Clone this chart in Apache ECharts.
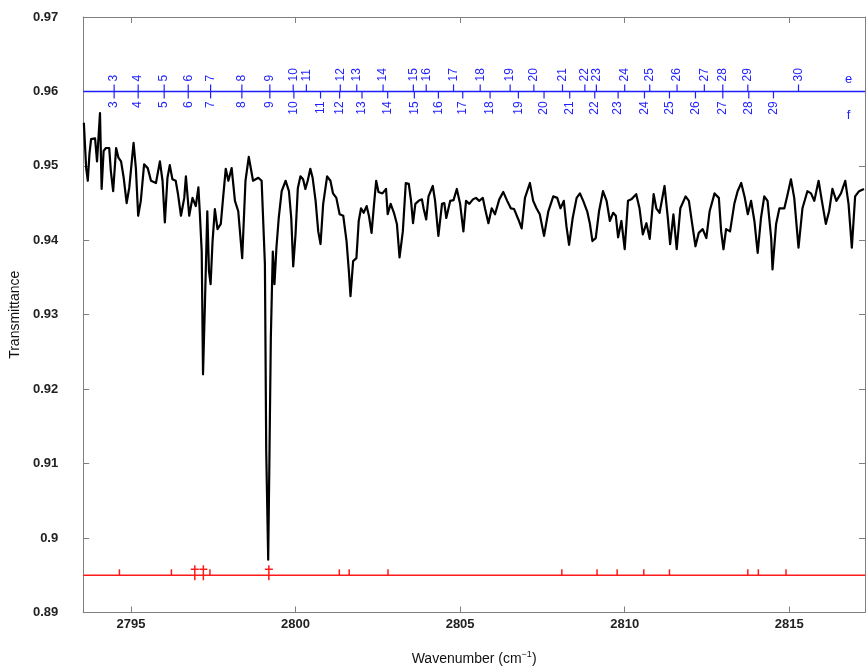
<!DOCTYPE html>
<html>
<head>
<meta charset="utf-8">
<title>Transmittance spectrum</title>
<script src="https://cdn.jsdelivr.net/npm/echarts@6/dist/echarts.min.js"></script>
<style>
  html, body { margin: 0; padding: 0; background: #fff; }
  #chart { width: 866px; height: 671px; }
</style>
</head>
<body>
<div id="chart"></div>
<script>
// measured spectrum (wavenumber in cm-1, transmittance)
const wavenumber = [
  2793.57, 2793.64, 2793.69, 2793.74, 2793.79, 2793.91, 2793.97, 2794.06, 2794.11, 2794.17,
  2794.24, 2794.34, 2794.39, 2794.46, 2794.55, 2794.62, 2794.70, 2794.78, 2794.87, 2794.95,
  2795.08, 2795.15, 2795.22, 2795.30, 2795.40, 2795.51, 2795.61, 2795.76, 2795.88, 2795.96,
  2796.03, 2796.11, 2796.18, 2796.26, 2796.36, 2796.43, 2796.52, 2796.62, 2796.67, 2796.77,
  2796.87, 2796.97, 2797.05, 2797.09, 2797.15, 2797.19, 2797.25, 2797.32, 2797.37, 2797.42,
  2797.48, 2797.55, 2797.63, 2797.73, 2797.80, 2797.88, 2797.96, 2798.06, 2798.16, 2798.26,
  2798.38, 2798.48, 2798.58, 2798.71, 2798.87, 2798.97, 2799.07, 2799.11, 2799.17, 2799.21,
  2799.25, 2799.31, 2799.36, 2799.42, 2799.49, 2799.58, 2799.70, 2799.80, 2799.87, 2799.93,
  2800.00, 2800.07, 2800.15, 2800.23, 2800.30, 2800.37, 2800.45, 2800.52, 2800.61, 2800.69,
  2800.76, 2800.84, 2800.96, 2801.06, 2801.14, 2801.24, 2801.34, 2801.45, 2801.55, 2801.62,
  2801.67, 2801.75, 2801.85, 2801.92, 2801.99, 2802.07, 2802.16, 2802.23, 2802.31, 2802.38,
  2802.45, 2802.52, 2802.64, 2802.75, 2802.80, 2802.89, 2802.99, 2803.08, 2803.16, 2803.26,
  2803.35, 2803.44, 2803.51, 2803.57, 2803.64, 2803.74, 2803.84, 2803.89, 2803.97, 2804.04,
  2804.17, 2804.24, 2804.34, 2804.45, 2804.52, 2804.58, 2804.70, 2804.80, 2804.90, 2805.00,
  2805.10, 2805.18, 2805.28, 2805.39, 2805.48, 2805.58, 2805.69, 2805.76, 2805.86, 2805.96,
  2806.06, 2806.19, 2806.31, 2806.43, 2806.54, 2806.64, 2806.77, 2806.87, 2806.97, 2807.12,
  2807.22, 2807.32, 2807.42, 2807.55, 2807.68, 2807.83, 2807.95, 2808.05, 2808.15, 2808.23,
  2808.31, 2808.42, 2808.54, 2808.64, 2808.74, 2808.86, 2808.94, 2809.02, 2809.12, 2809.22,
  2809.34, 2809.45, 2809.55, 2809.65, 2809.73, 2809.80, 2809.90, 2810.00, 2810.10, 2810.20,
  2810.35, 2810.45, 2810.55, 2810.66, 2810.76, 2810.88, 2810.96, 2811.06, 2811.21, 2811.31,
  2811.38, 2811.48, 2811.58, 2811.69, 2811.85, 2811.95, 2812.05, 2812.15, 2812.25, 2812.37,
  2812.48, 2812.58, 2812.73, 2812.86, 2812.93, 2813.00, 2813.08, 2813.20, 2813.33, 2813.43,
  2813.54, 2813.64, 2813.74, 2813.84, 2813.94, 2814.04, 2814.14, 2814.24, 2814.34, 2814.45,
  2814.49, 2814.60, 2814.70, 2814.85, 2814.95, 2815.05, 2815.15, 2815.28, 2815.40, 2815.55,
  2815.66, 2815.76, 2815.89, 2815.99, 2816.11, 2816.21, 2816.31, 2816.43, 2816.57, 2816.70,
  2816.80, 2816.90, 2817.00, 2817.12, 2817.27
];
const transmittance = [
  0.9558, 0.9497, 0.9480, 0.9516, 0.9536, 0.9537, 0.9506, 0.9571, 0.9469, 0.9520,
  0.9524, 0.9524, 0.9493, 0.9466, 0.9524, 0.9511, 0.9506, 0.9484, 0.9450, 0.9471,
  0.9531, 0.9497, 0.9433, 0.9453, 0.9502, 0.9497, 0.9480, 0.9477, 0.9506, 0.9480,
  0.9424, 0.9484, 0.9501, 0.9482, 0.9480, 0.9462, 0.9433, 0.9457, 0.9486, 0.9433,
  0.9457, 0.9446, 0.9471, 0.9439, 0.9385, 0.9220, 0.9318, 0.9439, 0.9359, 0.9341,
  0.9399, 0.9442, 0.9415, 0.9422, 0.9457, 0.9496, 0.9480, 0.9497, 0.9453, 0.9439,
  0.9376, 0.9480, 0.9512, 0.9480, 0.9484, 0.9480, 0.9368, 0.9117, 0.8971, 0.9117,
  0.9269, 0.9385, 0.9341, 0.9390, 0.9430, 0.9466, 0.9480, 0.9466, 0.9430, 0.9365,
  0.9408, 0.9470, 0.9486, 0.9482, 0.9469, 0.9480, 0.9496, 0.9484, 0.9453, 0.9412,
  0.9395, 0.9449, 0.9486, 0.9480, 0.9463, 0.9457, 0.9435, 0.9433, 0.9399, 0.9359,
  0.9325, 0.9372, 0.9376, 0.9426, 0.9443, 0.9437, 0.9446, 0.9433, 0.9410, 0.9446,
  0.9480, 0.9465, 0.9463, 0.9469, 0.9435, 0.9449, 0.9437, 0.9422, 0.9377, 0.9412,
  0.9477, 0.9476, 0.9453, 0.9423, 0.9449, 0.9453, 0.9455, 0.9443, 0.9428, 0.9459,
  0.9473, 0.9453, 0.9406, 0.9449, 0.9450, 0.9430, 0.9453, 0.9454, 0.9469, 0.9449,
  0.9412, 0.9453, 0.9449, 0.9455, 0.9457, 0.9453, 0.9457, 0.9442, 0.9423, 0.9443,
  0.9435, 0.9455, 0.9465, 0.9453, 0.9443, 0.9442, 0.9428, 0.9416, 0.9457, 0.9477,
  0.9453, 0.9443, 0.9435, 0.9406, 0.9439, 0.9459, 0.9457, 0.9443, 0.9453, 0.9419,
  0.9394, 0.9430, 0.9457, 0.9463, 0.9453, 0.9439, 0.9423, 0.9399, 0.9403, 0.9439,
  0.9466, 0.9453, 0.9426, 0.9437, 0.9433, 0.9404, 0.9426, 0.9388, 0.9453, 0.9455,
  0.9462, 0.9443, 0.9408, 0.9423, 0.9402, 0.9462, 0.9443, 0.9437, 0.9473, 0.9430,
  0.9395, 0.9435, 0.9388, 0.9443, 0.9459, 0.9453, 0.9422, 0.9392, 0.9410, 0.9415,
  0.9403, 0.9439, 0.9463, 0.9457, 0.9412, 0.9388, 0.9415, 0.9412, 0.9449, 0.9466,
  0.9477, 0.9459, 0.9435, 0.9453, 0.9426, 0.9383, 0.9430, 0.9459, 0.9453, 0.9403,
  0.9361, 0.9422, 0.9443, 0.9443, 0.9462, 0.9482, 0.9457, 0.9390, 0.9443, 0.9466,
  0.9463, 0.9453, 0.9480, 0.9453, 0.9422, 0.9439, 0.9469, 0.9453, 0.9463, 0.9480,
  0.9449, 0.9390, 0.9459, 0.9466, 0.9469
];

// assignment rows (blue comb at 0.96): upper "e" and lower "f"
const eLabels = ["3","4","5","6","7","8","9","10","11","12","13","14","15","16","17","18","19","20","21","22","23","24","25","26","27","28","29","30"];
const ePositions = [
  2794.49, 2795.22, 2796.01, 2796.74, 2797.42, 2798.37, 2799.22, 2799.93, 2800.33, 2801.36,
  2801.86, 2802.66, 2803.58, 2803.97, 2804.80, 2805.61, 2806.52, 2807.24, 2808.11, 2808.79,
  2809.14, 2810.00, 2810.76, 2811.59, 2812.42, 2812.98, 2813.74, 2815.28
];
const fLabels = ["3","4","5","6","7","8","9","10","11","12","13","14","15","16","17","18","19","20","21","22","23","24","25","26","27","28","29"];
const fPositions = [
  2794.49, 2795.22, 2796.01, 2796.74, 2797.42, 2798.37, 2799.22, 2799.95, 2800.76, 2801.34,
  2802.02, 2802.80, 2803.61, 2804.34, 2805.08, 2805.91, 2806.77, 2807.55, 2808.33, 2809.09,
  2809.80, 2810.60, 2811.36, 2812.15, 2812.98, 2813.77, 2814.52
];

// red line markers at 0.895
const redTicks = [
  2794.65, 2796.23, 2797.40, 2801.33, 2801.63, 2802.81, 2808.09, 2809.16, 2809.77,
  2810.58, 2811.36, 2813.74, 2814.06, 2814.90
];
const redCrosses = [2796.94, 2797.20, 2799.19];

const xTicks = [2795, 2800, 2805, 2810, 2815];
const blueLevel = 0.96;
const redLevel = 0.895;
const xMin = 2793.55;
const xMax = 2817.3;

const BLUE = "#1f1fff";
const RED = "#ff1a1a";
const AXIS_GREY = "#7f7f7f";
const FONT = "Liberation Sans, Arial, sans-serif";

const chart = echarts.init(document.getElementById("chart"), null, { renderer: "canvas" });

function levelLine(level, color) {
  return {
    type: "line",
    data: [[xMin, level], [xMax, level]],
    showSymbol: false,
    symbol: "none",
    silent: true,
    z: 3,
    lineStyle: { color: color, width: 1.5 },
  };
}

function combSeries(positions, labels, up, tag) {
  return {
    type: "custom",
    silent: true,
    z: 5,
    data: positions.map((w) => [w, blueLevel]),
    encode: { x: 0, y: 1 },
    renderItem(params, api) {
      const p = api.coord([api.value(0), blueLevel]);
      const dir = up ? -1 : 1;
      const children = [
        {
          type: "line",
          shape: { x1: p[0], y1: p[1], x2: p[0], y2: p[1] + dir * 7 },
          style: { stroke: BLUE, lineWidth: 1.2 },
        },
        {
          type: "text",
          x: p[0],
          y: p[1] + dir * 10,
          rotation: Math.PI / 2,
          style: {
            text: labels[params.dataIndex],
            fill: BLUE,
            fontSize: 12,
            fontFamily: FONT,
            align: up ? "left" : "right",
            verticalAlign: "middle",
          },
        },
      ];
      if (params.dataIndex === positions.length - 1) {
        const q = api.coord([2816.8, blueLevel]);
        children.push({
          type: "text",
          x: q[0],
          y: q[1] + (up ? -12 : 24),
          style: {
            text: tag,
            fill: BLUE,
            fontSize: 13,
            fontFamily: FONT,
            align: "center",
            verticalAlign: "middle",
          },
        });
      }
      return { type: "group", children };
    },
  };
}

function redSeries(positions, cross) {
  return {
    type: "custom",
    silent: true,
    z: 5,
    data: positions.map((w) => [w, redLevel]),
    encode: { x: 0, y: 1 },
    renderItem(params, api) {
      const p = api.coord([api.value(0), redLevel]);
      const children = [];
      if (cross) {
        children.push({
          type: "line",
          shape: { x1: p[0], y1: p[1] - 10, x2: p[0], y2: p[1] + 5 },
          style: { stroke: RED, lineWidth: 1.5 },
        });
        children.push({
          type: "line",
          shape: { x1: p[0] - 4, y1: p[1] - 6, x2: p[0] + 4, y2: p[1] - 6 },
          style: { stroke: RED, lineWidth: 1.5 },
        });
      } else {
        children.push({
          type: "line",
          shape: { x1: p[0], y1: p[1], x2: p[0], y2: p[1] - 6 },
          style: { stroke: RED, lineWidth: 1.5 },
        });
      }
      return { type: "group", children };
    },
  };
}

chart.setOption({
  animation: false,
  backgroundColor: "#fff",
  grid: { left: 82, right: 1, top: 17, bottom: 57, containLabel: false },
  xAxis: [
    {
      type: "value",
      min: xMin,
      max: xMax,
      name: "{t|Wavenumber (cm}{s|−1}{t|)}",
      nameLocation: "middle",
      nameGap: 38,
      nameTextStyle: {
        rich: {
          t: { fontSize: 14, fontFamily: FONT, color: "#111" },
          s: { fontSize: 9, fontFamily: FONT, color: "#111", verticalAlign: "top", padding: [0, 0, 8, 0] },
        },
      },
      axisLine: { show: true, onZero: false, lineStyle: { color: AXIS_GREY, width: 1 } },
      axisTick: { show: true, inside: true, length: 6, customValues: xTicks, lineStyle: { color: AXIS_GREY } },
      axisLabel: {
        customValues: xTicks,
        margin: 5,
        fontSize: 13,
        fontWeight: "bold",
        fontFamily: FONT,
        color: "#222",
        formatter: (v) => String(Math.round(v)),
      },
      splitLine: { show: false },
    },
    {
      type: "value",
      position: "top",
      min: xMin,
      max: xMax,
      axisLine: { show: true, onZero: false, lineStyle: { color: AXIS_GREY, width: 1 } },
      axisTick: { show: true, inside: true, length: 6, customValues: xTicks, lineStyle: { color: AXIS_GREY } },
      axisLabel: { show: false },
      splitLine: { show: false },
    },
  ],
  yAxis: [
    {
      type: "value",
      min: 0.89,
      max: 0.97,
      interval: 0.01,
      name: "Transmittance",
      nameLocation: "middle",
      nameGap: 49,
      nameTextStyle: { fontSize: 14, fontFamily: FONT, color: "#111" },
      axisLine: { show: true, onZero: false, lineStyle: { color: AXIS_GREY, width: 1 } },
      axisTick: { show: true, inside: true, length: 6, lineStyle: { color: AXIS_GREY } },
      axisLabel: {
        margin: 25,
        fontSize: 13,
        fontWeight: "bold",
        fontFamily: FONT,
        color: "#222",
        formatter: (v) => String(parseFloat(v.toFixed(2))),
      },
      splitLine: { show: false },
    },
    {
      type: "value",
      position: "right",
      min: 0.89,
      max: 0.97,
      interval: 0.01,
      axisLine: { show: true, onZero: false, lineStyle: { color: AXIS_GREY, width: 1 } },
      axisTick: { show: true, inside: true, length: 6, lineStyle: { color: AXIS_GREY } },
      axisLabel: { show: false },
      splitLine: { show: false },
    },
  ],
  series: [
    levelLine(blueLevel, BLUE),
    levelLine(redLevel, RED),
    {
      name: "spectrum",
      type: "line",
      data: wavenumber.map((w, i) => [w, transmittance[i]]),
      showSymbol: false,
      symbol: "none",
      lineStyle: { color: "#000", width: 2.2, join: "round" },
      z: 4,
      silent: true,
    },
    combSeries(ePositions, eLabels, true, "e"),
    combSeries(fPositions, fLabels, false, "f"),
    redSeries(redTicks, false),
    redSeries(redCrosses, true),
  ],
});
</script>
</body>
</html>
